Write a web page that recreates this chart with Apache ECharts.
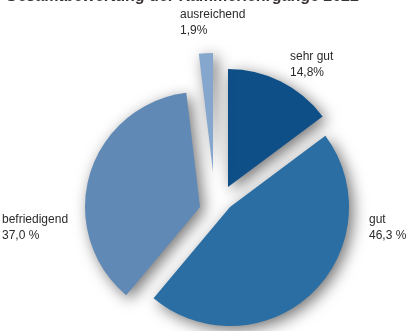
<!DOCTYPE html>
<html>
<head>
<meta charset="utf-8">
<script src="https://cdn.jsdelivr.net/npm/echarts@6/dist/echarts.min.js"></script>
<style>
  html, body { margin: 0; padding: 0; background: #ffffff; }
  #chart { width: 408px; height: 331px; }
</style>
</head>
<body>
<div id="chart"></div>
<script>
// Heading (only its lower edge sits inside the frame)
const chartTitle = 'Gesamtbewertung der Kammerlehrgänge 2022';

// Ratings and their shares in percent
const categories = ['sehr gut', 'gut', 'befriedigend', 'ausreichend'];
const shares = [14.8, 46.3, 37.0, 1.9];
const percentSuffix = ['%', ' %', ' %', '%'];

// Look and layout of the exploded pie
const sliceColors = ['#0f4f88', '#2a6ea3', '#6089b6', '#86a7cd'];
const pieCenter = [215, 197];
const explodeOffset = [[13, -10], [15, 10], [-15, 10], [-2, -25]];
const sliceRadius = [118, 119, 115, 119];
const labelAnchor = [[290, 49], [369, 212], [2, 212], [180, 7]];

const fmtShare = (v, i) => v.toFixed(1).replace('.', ',') + percentSuffix[i];

// One pie series per slice so every wedge can be pulled out on its own;
// the other wedges of that series stay invisible but keep the angles.
const series = categories.map((name, k) => ({
  type: 'pie',
  center: [pieCenter[0] + explodeOffset[k][0], pieCenter[1] + explodeOffset[k][1]],
  radius: [0, sliceRadius[k]],
  startAngle: 90,
  clockwise: true,
  silent: true,
  animation: false,
  avoidLabelOverlap: false,
  padAngle: 0,
  emphasis: { disabled: true },
  labelLine: { show: false },
  label: {
    position: 'outside',
    formatter: p => p.name + '\n' + fmtShare(p.value, p.dataIndex),
    color: '#2b2b2b',
    fontSize: 12,
    fontFamily: '"Liberation Sans", Arial, sans-serif',
    lineHeight: 16,
    align: 'left'
  },
  labelLayout: () => ({
    x: labelAnchor[k][0],
    y: labelAnchor[k][1],
    align: 'left',
    verticalAlign: 'top'
  }),
  data: categories.map((c, i) => ({
    name: c,
    value: shares[i],
    itemStyle: i === k
      ? {
          color: sliceColors[i],
          borderWidth: 0,
          shadowBlur: 15,
          shadowOffsetX: 4,
          shadowOffsetY: 4,
          shadowColor: 'rgba(0,0,0,0.55)'
        }
      : { color: 'rgba(0,0,0,0)', borderWidth: 0 },
    label: { show: i === k }
  }))
}));

const chart = echarts.init(document.getElementById('chart'), null, { renderer: 'canvas' });
chart.setOption({
  backgroundColor: '#ffffff',
  animation: false,
  graphic: [{
    type: 'text',
    x: 5,
    y: -11,
    silent: true,
    style: {
      text: chartTitle,
      font: 'bold 16px "Liberation Sans", Arial, sans-serif',
      fill: '#3a3333',
      shadowColor: 'rgba(230,120,90,0.5)',
      shadowBlur: 8,
      shadowOffsetY: 6
    }
  }],
  series: series
});
</script>
</body>
</html>
